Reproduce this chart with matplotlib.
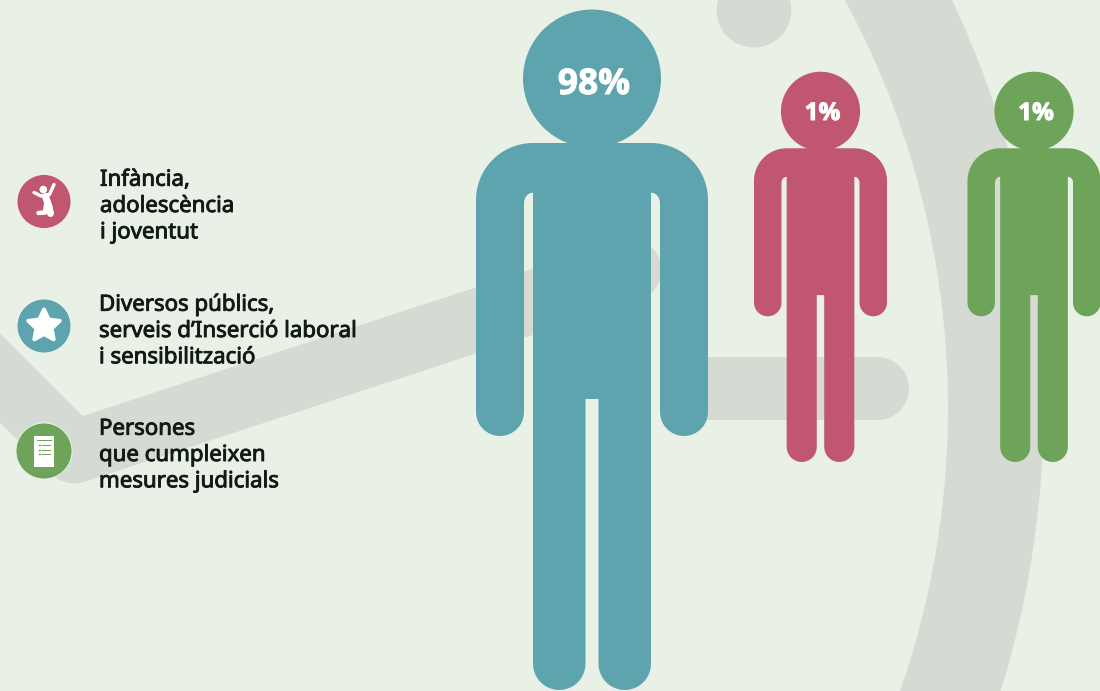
import matplotlib
matplotlib.use("Agg")
import matplotlib.pyplot as plt
import matplotlib.patheffects as pe
from matplotlib.patches import Polygon, Circle, Rectangle, Wedge
import numpy as np

# values
shares = [98, 1, 1]
share_labels = ["98%", "1%", "1%"]
group_labels = ["Infància,\nadolescència\ni joventut",
                "Diversos públics,\nserveis d’Inserció laboral\ni sensibilització",
                "Persones\nque cumpleixen\nmesures judicials"]

BG = "#e9f1e7"
BAND = "#d5dbd2"
TEAL = "#5ea4ae"
PINK = "#c0566f"
GREEN = "#6ea35a"
TEXT = "#111a16"

fig = plt.figure(figsize=(11, 6.91), dpi=100, facecolor=BG)
ax = fig.add_axes([0, 0, 1, 1])
ax.set_xlim(0, 1100)
ax.set_ylim(691, 0)
ax.axis("off")

px = 72 / fig.dpi  # line widths are given in pixels


def band(xs, ys, width):
    ax.plot(xs, ys, color=BAND, lw=width * px, solid_capstyle="round",
            solid_joinstyle="round", zorder=1)


# background shapes
ax.add_patch(Circle((754, 10), 37.5, color=BAND, lw=0, zorder=1))
# agg cuts stroked lines at the canvas edge, so the part that leaves the picture is a polygon
ax.add_patch(Polygon([(-37.7, 295.7), (96.3, 429.7), (51.7, 474.3), (-82.3, 340.3)],
                     closed=True, fc=BAND, ec="none", zorder=1))
band([74, 630], [452, 270], 63)
band([700, 877], [387.5, 387.5], 63)
ax.add_patch(Wedge((89, 408), 954.6, -60, 60, width=95.6, color=BAND, lw=0, zorder=1))


def arc(x, y, rx, ry, a0, a1, n=24):
    t = np.radians(np.linspace(a0, a1, n))
    return np.column_stack([x + rx * np.cos(t), y + ry * np.sin(t)])


# right half of the big figure, relative to centre x and top of head (y goes down)
half = np.vstack([
    [[0, 133]],
    arc(59, 190, 57, 57, -90, 0),
    arc(92, 402, 24, 24, 0, 180),
    arc(59, 193, 9, 10.3, 0, -90),
    arc(32.75, 653.75, 26.25, 26.25, 0, 180),
    [[6.5, 389], [0, 389]],
])
outline = np.vstack([half, half[::-1] * [-1, 1]])


def person(cx, top, s, color):
    ax.add_patch(Circle((cx, top + 68.5 * s), 69 * s, color=color, lw=0, zorder=3))
    ax.add_patch(Polygon(outline * s + [cx, top], closed=True, fc=color, ec="none", zorder=3))


figures = [(592, 10, 1.0, TEAL, 25.5, 85), (820.5, 72, 0.5735, PINK, 17.5, 114),
           (1034, 72, 0.5735, GREEN, 17.5, 114)]
for (cx, top, s, col, fs, ty), lab in zip(figures, share_labels):
    person(cx, top, s, col)
    t = ax.text(cx + 2, ty, lab, color="white", fontsize=fs, fontweight="bold",
                family="Open Sans", ha="center", va="center", zorder=5)
    t.set_path_effects([pe.withStroke(linewidth=0.7, foreground="white")])

# legend icons
icon_pos = [(44, 201.5, 27, PINK), (44, 326, 27, TEAL), (44, 451, 28, GREEN)]
text_pos = [(100, 206.5), (99, 331.5), (99, 455.5)]
for x, y, r, col in icon_pos:
    ax.add_patch(Circle((x, y), r, fc=col, ec="#f3f6f1", lw=0.6, zorder=4))
for (x, y), lab in zip(text_pos, group_labels):
    t = ax.text(x, y, lab, color=TEXT, fontsize=16, family="Noto Sans",
                ha="left", va="center", linespacing=1.33, zorder=5)
    t.set_path_effects([pe.withStroke(linewidth=0.65, foreground=TEXT)])

# child icon
ax.add_patch(Circle((43.3, 189.5), 3.8, color="white", lw=0, zorder=6))
ax.plot([34, 41, 49.5, 54], [192.5, 196, 194.5, 184.5], color="white", lw=3.4 * px,
        solid_capstyle="round", solid_joinstyle="round", zorder=6)
ax.plot([45.5, 49, 50.5], [196.5, 206.5, 213.5], color="white", lw=7 * px,
        solid_capstyle="round", solid_joinstyle="round", zorder=6)
ax.plot([46, 45, 38.5], [204.5, 212.5, 213], color="white", lw=4.5 * px,
        solid_capstyle="round", solid_joinstyle="round", zorder=6)

# star icon
ang = np.radians(np.arange(10) * 36 - 90)
rad = np.where(np.arange(10) % 2 == 0, 16.5, 8)
star = np.column_stack([44 + rad * np.cos(ang), 326 + rad * np.sin(ang)])
ax.add_patch(Polygon(star, closed=True, fc="white", ec="white", lw=4 * px,
                     joinstyle="round", zorder=6))

# clipboard icon
ax.add_patch(Rectangle((34, 436), 20, 31, fc="white", ec="none", zorder=6))
ax.plot([37, 51], [439.5, 439.5], color=GREEN, lw=1 * px, zorder=7)
for y in [445, 449.5, 454]:
    ax.plot([38.5, 40], [y, y], color=GREEN, lw=1.4 * px, zorder=7)
    ax.plot([42, 50], [y, y], color=GREEN, lw=1 * px, zorder=7)

fig.savefig("out.png", dpi=100, facecolor=BG)
